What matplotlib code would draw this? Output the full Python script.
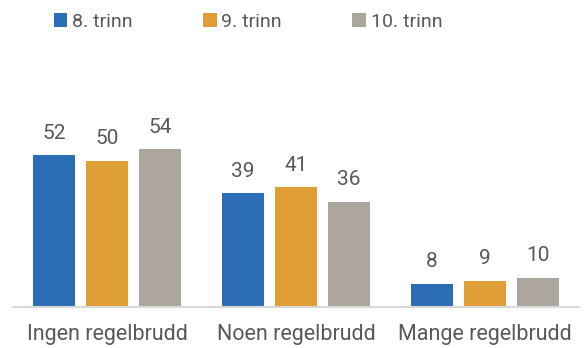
import matplotlib
matplotlib.use("Agg")
import matplotlib.pyplot as plt
import numpy as np

categories = ["Ingen regelbrudd", "Noen regelbrudd", "Mange regelbrudd"]
series_names = ["8. trinn", "9. trinn", "10. trinn"]
trinn8 = [52, 39, 8]
trinn9 = [50, 41, 9]
trinn10 = [54, 36, 10]
colors = ["#2B6EB5", "#E09F36", "#ADA69F"]

plt.rcParams["font.family"] = ["Roboto", "DejaVu Sans"]
text_color = "#595959"

fig = plt.figure(figsize=(5.88, 3.48), dpi=100)
ax = fig.add_axes([13 / 588, 41 / 348, 566 / 588, 204.4 / 348])

x = np.arange(len(categories))
width = 0.223
step = 0.281
handles = []
for i, (vals, name, col) in enumerate(zip([trinn8, trinn9, trinn10], series_names, colors)):
    bars = ax.bar(x + (i - 1) * step, vals, width, color=col, label=name, zorder=2)
    ax.bar_label(bars, labels=[str(v) for v in vals], padding=9, fontsize=15, color=text_color)
    handles.append(bars)

ax.set_xlim(-0.5, 2.5)
ax.set_ylim(0, 70)
ax.set_yticks([])
ax.set_xticks(x)
ax.set_xticklabels(categories, fontsize=15.5, color=text_color)
ax.tick_params(axis="x", length=0, pad=12.5)
for s in ["top", "right", "left"]:
    ax.spines[s].set_visible(False)
ax.spines["bottom"].set_color("#D9D9D9")
ax.spines["bottom"].set_linewidth(1.5)

fig.legend(handles=handles, labels=series_names, loc="center", bbox_to_anchor=(248 / 588, 1 - 22 / 348),
           ncol=3, frameon=False, fontsize=14, labelcolor=text_color,
           handlelength=0.7, handleheight=0.7, handletextpad=0.25, columnspacing=3.6)

fig.savefig("out.png", dpi=100)
